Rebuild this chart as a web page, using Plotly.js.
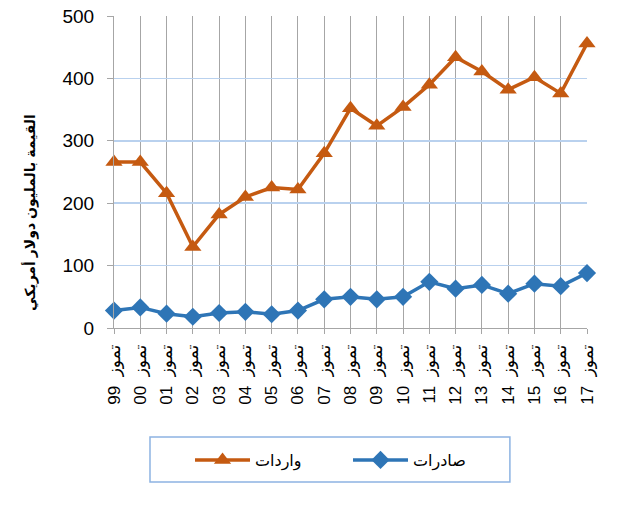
<!DOCTYPE html>
<html>
<head>
<meta charset="utf-8">
<script src="https://cdn.plot.ly/plotly-3.0.1.min.js"></script>
<style>html,body{margin:0;padding:0;background:#fff;}#chart{width:620px;height:520px;}</style>
</head>
<body>
<div id="chart"></div>
<script>
var categories = ['تموز\u00a0 99','تموز\u00a0 00','تموز\u00a0 01','تموز\u00a0 02','تموز\u00a0 03','تموز\u00a0 04','تموز\u00a0 05','تموز\u00a0 06','تموز\u00a0 07','تموز\u00a0 08','تموز\u00a0 09','تموز\u00a0 10','تموز\u00a0 11','تموز\u00a0 12','تموز\u00a0 13','تموز\u00a0 14','تموز\u00a0 15','تموز\u00a0 16','تموز\u00a0 17'];
var imports = [266, 266, 216, 130, 182, 210, 225, 222, 280, 352, 324, 354, 390, 434, 411, 382, 402, 376, 456];
var exports = [28, 33, 23, 18, 24, 26, 22, 28, 46, 50, 46, 50, 74, 63, 69, 55, 71, 67, 88];
var importsName = 'واردات';
var exportsName = 'صادرات';
var yTitle = 'القيمة بالمليون دولار أمريكي';

var traces = [
  {x: categories, y: imports, name: importsName, type: 'scatter', mode: 'lines+markers',
   line: {color: '#c55a11', width: 3.5}, marker: {symbol: 'triangle-up', size: 15, color: '#c55a11'}, cliponaxis: false},
  {x: categories, y: exports, name: exportsName, type: 'scatter', mode: 'lines+markers',
   line: {color: '#2e75b6', width: 3.5}, marker: {symbol: 'diamond', size: 14, color: '#2e75b6'}, cliponaxis: false}
];

var layout = {
  width: 620, height: 520,
  margin: {l: 114, r: 33, t: 16, b: 192},
  paper_bgcolor: '#ffffff', plot_bgcolor: '#ffffff',
  font: {family: 'Liberation Sans, Arial, DejaVu Sans, sans-serif', color: '#000'},
  showlegend: true,
  legend: {orientation: 'h', x: 0.1607, xanchor: 'left', y: -0.423, yanchor: 'middle',
    borderwidth: 0, bgcolor: 'rgba(0,0,0,0)', font: {size: 16, color: '#000'},
    itemwidth: 55, entrywidth: 88},
  shapes: [{type: 'rect', xref: 'paper', yref: 'paper', x0: 0.0761, x1: 0.837, y0: -0.4936, y1: -0.349,
    line: {color: '#8db3e2', width: 1.5}, fillcolor: 'rgba(0,0,0,0)', layer: 'below'}],
  annotations: [{xref: 'paper', yref: 'paper', x: -0.1776, y: 0.372, xanchor: 'center', yanchor: 'middle',
    textangle: -90, showarrow: false, text: '<b>' + yTitle + '</b>', font: {size: 14, color: '#000'}}],
  xaxis: {type: 'category', range: [0, 18], showgrid: true, gridcolor: '#a6a6a6', gridwidth: 1,
    showline: true, linecolor: '#a6a6a6', ticks: 'outside', tickcolor: '#a6a6a6', ticklen: 5,
    tickangle: -90, tickfont: {size: 17, color: '#000'}, ticklabelstandoff: 4, zeroline: false, automargin: false},
  yaxis: {range: [0, 500], dtick: 100, tick0: 0, showgrid: true, gridcolor: '#b9d1ee', gridwidth: 1.5,
    showline: true, linecolor: '#a6a6a6', ticks: 'outside', tickcolor: '#a6a6a6', ticklen: 6,
    tickfont: {size: 19, color: '#000'}, ticklabelstandoff: 9, zeroline: false, automargin: false}
};

Plotly.newPlot('chart', traces, layout, {displayModeBar: false, staticPlot: true});
</script>
</body>
</html>
